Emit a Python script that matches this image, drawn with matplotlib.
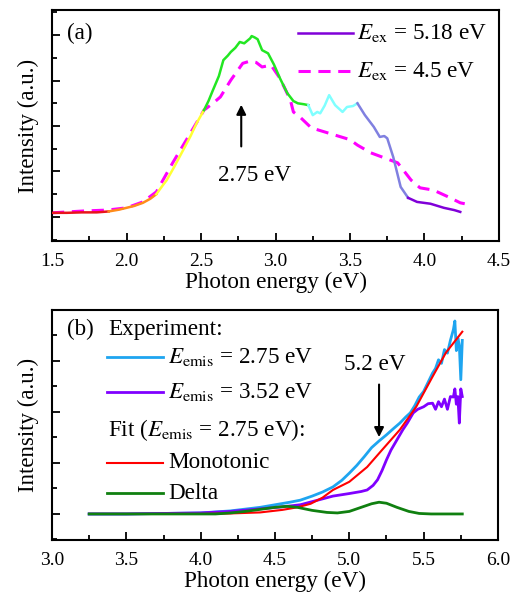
import matplotlib
matplotlib.use("Agg")
import matplotlib.pyplot as plt
import numpy as np
from matplotlib.ticker import MultipleLocator, FormatStrFormatter

plt.rcParams['font.family'] = ['Liberation Serif', 'DejaVu Serif']
plt.rcParams['mathtext.fontset'] = 'stix'

# --- panel (a): PL spectra ---
a_solid_x = [1.50, 1.60, 1.70, 1.80, 1.88, 1.95, 2.00, 2.05, 2.11, 2.16, 2.20, 2.24, 2.27,
             2.32, 2.38, 2.43, 2.47, 2.52, 2.55, 2.58, 2.62, 2.65, 2.68, 2.70, 2.73, 2.76,
             2.79, 2.83, 2.84, 2.86, 2.88, 2.91, 2.95, 2.99, 3.03, 3.06, 3.08, 3.12, 3.15,
             3.19, 3.22, 3.25, 3.28, 3.30, 3.33, 3.36, 3.40, 3.45, 3.48, 3.52, 3.55, 3.60,
             3.66, 3.70, 3.73, 3.75, 3.79, 3.84, 3.89, 3.95, 4.04, 4.13, 4.20, 4.24]
a_solid_y = [0.09, 0.09, 0.10, 0.10, 0.12, 0.16, 0.20, 0.24, 0.31, 0.40, 0.50, 0.68, 0.81,
             1.10, 1.47, 1.78, 2.06, 2.35, 2.55, 2.79, 3.10, 3.45, 3.55, 3.63, 3.72, 3.85,
             3.82, 3.93, 3.98, 3.95, 3.91, 3.67, 3.60, 3.35, 3.05, 2.85, 2.72, 2.55, 2.50,
             2.48, 2.46, 2.24, 2.31, 2.28, 2.45, 2.68, 2.46, 2.31, 2.42, 2.44, 2.50, 2.24,
             1.98, 1.76, 1.78, 1.73, 1.32, 0.66, 0.42, 0.33, 0.29, 0.20, 0.15, 0.11]
# colour bands of the solid curve (photon energy limits)
band_edges = [1.50, 1.88, 2.20, 2.52, 3.22, 3.55, 3.89, 4.25]
band_colors = ['#e8141c', '#ff8c1a', '#ffff33', '#22e622', '#80ffff', '#8080e0', '#8000d8']

a_dash_x = [1.50, 1.71, 1.87, 2.00, 2.11, 2.20, 2.31, 2.43, 2.52, 2.58, 2.63, 2.70, 2.78,
            2.83, 2.87, 2.91, 2.97, 3.03, 3.10, 3.12, 3.17, 3.24, 3.30, 3.35, 3.44, 3.50,
            3.55, 3.64, 3.73, 3.82, 3.91, 3.97, 4.06, 4.16, 4.24, 4.27]
a_dash_y = [0.09, 0.13, 0.15, 0.20, 0.33, 0.55, 1.19, 1.85, 2.35, 2.50, 2.64, 3.01, 3.38,
            3.43, 3.40, 3.30, 3.34, 3.05, 2.57, 2.31, 2.18, 1.96, 1.90, 1.85, 1.76, 1.70,
            1.58, 1.41, 1.30, 1.19, 0.81, 0.64, 0.59, 0.44, 0.31, 0.29]

# --- panel (b): PLE spectra ---
b_blue_x = [3.25, 3.50, 3.75, 4.00, 4.20, 4.40, 4.50, 4.60, 4.67, 4.75, 4.82, 4.89, 4.95,
            5.00, 5.05, 5.10, 5.15, 5.20, 5.25, 5.30, 5.34, 5.38, 5.41, 5.44, 5.47, 5.50,
            5.53, 5.56, 5.58, 5.60, 5.62, 5.64, 5.66, 5.68, 5.70, 5.71, 5.72, 5.73, 5.74,
            5.75, 5.76]
b_blue_y = [0.00, 0.00, 0.01, 0.02, 0.06, 0.13, 0.18, 0.23, 0.27, 0.35, 0.43, 0.53, 0.66,
            0.80, 0.95, 1.12, 1.30, 1.43, 1.55, 1.68, 1.78, 1.90, 1.98, 2.12, 2.29, 2.40,
            2.58, 2.76, 2.85, 3.02, 2.95, 3.22, 3.15, 3.40, 3.61, 3.78, 3.20, 3.45, 3.30,
            2.63, 3.40]
b_purple_x = [3.25, 3.50, 3.75, 4.00, 4.20, 4.40, 4.55, 4.67, 4.80, 4.89, 5.00, 5.08, 5.12,
              5.16, 5.19, 5.22, 5.25, 5.28, 5.32, 5.36, 5.39, 5.43, 5.46, 5.50, 5.53, 5.56,
              5.58, 5.60, 5.62, 5.64, 5.66, 5.68, 5.70, 5.71, 5.72, 5.73, 5.74, 5.75, 5.76]
b_purple_y = [0.00, 0.00, 0.01, 0.02, 0.05, 0.10, 0.14, 0.18, 0.28, 0.35, 0.40, 0.44, 0.47,
              0.56, 0.67, 0.85, 1.06, 1.25, 1.45, 1.65, 1.78, 1.98, 2.05, 2.10, 2.16, 2.17,
              2.05, 2.20, 2.10, 2.25, 2.05, 2.30, 2.29, 2.45, 2.15, 2.30, 1.78, 2.45, 2.30]
b_mono_x = [3.25, 4.00, 4.20, 4.40, 4.55, 4.65, 4.74, 4.82, 4.89, 5.00, 5.12, 5.21, 5.34,
            5.45, 5.56, 5.65, 5.76]
b_mono_y = [0.00, 0.00, 0.01, 0.03, 0.08, 0.13, 0.20, 0.32, 0.47, 0.63, 0.92, 1.22, 1.65,
            2.10, 2.69, 3.16, 3.57]
b_delta_x = [3.25, 4.10, 4.20, 4.30, 4.40, 4.50, 4.58, 4.65, 4.75, 4.85, 4.92, 5.00, 5.08,
             5.15, 5.20, 5.25, 5.32, 5.40, 5.47, 5.55, 5.76]
b_delta_y = [0.00, 0.00, 0.02, 0.05, 0.09, 0.13, 0.15, 0.13, 0.07, 0.03, 0.02, 0.05, 0.13,
             0.20, 0.23, 0.21, 0.13, 0.05, 0.01, 0.00, 0.00]

FS = 16.7

fig = plt.figure(figsize=(5.12, 5.98), dpi=100)
ax1 = fig.add_axes([0.1016, 0.597, 0.873, 0.386])
ax2 = fig.add_axes([0.1016, 0.097, 0.871, 0.385])

def style_axes(ax):
    for sp in ax.spines.values():
        sp.set_linewidth(1.5)
    ax.tick_params(which='both', direction='in', top=False, right=False, labelsize=14,
                   width=1.3)
    ax.tick_params(which='major', length=6)
    ax.tick_params(which='minor', length=3.5)
    ax.tick_params(axis='x', pad=9)
    ax.tick_params(axis='y', labelleft=False)
    ax.xaxis.set_major_locator(MultipleLocator(0.5))
    ax.xaxis.set_minor_locator(MultipleLocator(0.25))
    ax.yaxis.set_major_locator(MultipleLocator(1))
    ax.yaxis.set_minor_locator(MultipleLocator(0.5))
    ax.xaxis.set_major_formatter(FormatStrFormatter('%.1f'))
    ax.set_xlabel('Photon energy (eV)', fontsize=FS, labelpad=1)
    ax.set_ylabel('Intensity (a.u.)', fontsize=16.5, labelpad=6)

# ---- (a) ----
sx = np.array(a_solid_x)
sy = np.array(a_solid_y)
for lo, hi, c in zip(band_edges[:-1], band_edges[1:], band_colors):
    m = (sx >= lo) & (sx <= hi)
    ax1.plot(sx[m], sy[m], color=c, lw=1.8, zorder=3)
ax1.plot(a_dash_x, a_dash_y, color='#ff00ff', lw=2.2, dashes=(4, 2.5), zorder=2)

ax1.set_xlim(1.5, 4.5)
ax1.set_ylim(-0.53, 4.55)
style_axes(ax1)

ax1.annotate('', xy=(2.77, 2.53), xytext=(2.77, 1.49),
             arrowprops=dict(arrowstyle='-|>', color='black', lw=1.5, mutation_scale=14))
ax1.text(2.86, 0.92, '2.75 eV', fontsize=FS, ha='center', va='center')
ax1.text(0.034, 0.90, '(a)', transform=ax1.transAxes, fontsize=FS, va='center')

ax1.plot([0.55, 0.673], [0.90, 0.90], transform=ax1.transAxes, color='#8000d8', lw=1.8)
ax1.plot([0.55, 0.673], [0.736, 0.736], transform=ax1.transAxes, color='#ff00ff', lw=2.2,
         dashes=(4, 2.5))
ax1.text(0.683, 0.90, r'$E_{\rm ex}$ = 5.18 eV', transform=ax1.transAxes, fontsize=FS,
         va='center')
ax1.text(0.683, 0.736, r'$E_{\rm ex}$ = 4.5 eV', transform=ax1.transAxes, fontsize=FS,
         va='center')

# ---- (b) ----
ax2.plot(b_blue_x, b_blue_y, color='#1ea5f0', lw=2)
ax2.plot(b_purple_x, b_purple_y, color='#8000ff', lw=2)
ax2.plot(b_mono_x, b_mono_y, color='#ff0000', lw=1.5)
ax2.plot(b_delta_x, b_delta_y, color='#108010', lw=2)

ax2.set_xlim(3.0, 6.0)
ax2.set_ylim(-0.51, 4.0)
style_axes(ax2)

ax2.annotate('', xy=(5.2, 1.45), xytext=(5.2, 2.59),
             arrowprops=dict(arrowstyle='-|>', color='black', lw=1.5, mutation_scale=14))
ax2.text(5.17, 2.92, '5.2 eV', fontsize=FS, ha='center', va='center')
ax2.text(0.034, 0.913, '(b)', transform=ax2.transAxes, fontsize=FS, va='center')

ax2.text(0.126, 0.913, 'Experiment:', transform=ax2.transAxes, fontsize=FS, va='center')
ax2.text(0.126, 0.478, r'Fit ($E_{\rm emis}$ = 2.75 eV):', transform=ax2.transAxes,
         fontsize=FS, va='center')
leg_rows = [(0.796, '#1ea5f0', 2, r'$E_{\rm emis}$ = 2.75 eV'),
            (0.643, '#8000ff', 2, r'$E_{\rm emis}$ = 3.52 eV'),
            (0.335, '#ff0000', 1.5, 'Monotonic'),
            (0.204, '#108010', 2, 'Delta')]
for yy, c, lw, lab in leg_rows:
    ax2.plot([0.123, 0.249], [yy, yy], transform=ax2.transAxes, color=c, lw=lw)
    ax2.text(0.26, yy, lab, transform=ax2.transAxes, fontsize=FS, va='center')

fig.savefig('out.png', dpi=100)
